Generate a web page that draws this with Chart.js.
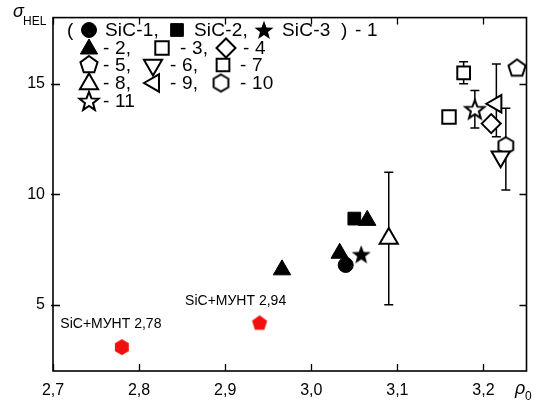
<!DOCTYPE html>
<html><head><meta charset="utf-8">
<script src="https://cdn.jsdelivr.net/npm/chart.js@4"></script>
<style>html,body{margin:0;padding:0;background:#fff}#wrap{width:539px;height:403px}</style>
</head><body><div id="wrap"><canvas id="c" width="539" height="403"></canvas></div>
<script>
// ---- data ----
const xTicks = [2.7, 2.8, 2.9, 3.0, 3.1, 3.2];
const yTicks = [5, 10, 15];
const sic1X = [3.04],  sic1Y = [6.8];
const sic2X = [3.05],  sic2Y = [8.9];
const sic3X = [3.058], sic3Y = [7.28];
const s2X = [2.966, 3.033, 3.065], s2Y = [6.58, 7.33, 8.82];
const s3X = [3.16],  s3Y = [13.5];
const s4X = [3.209], s4Y = [13.2];
const s5X = [3.239], s5Y = [15.7];
const s6X = [3.22],  s6Y = [11.7];
const s7X = [3.177], s7Y = [15.5],  s7Lo = [15.0],  s7Hi = [16.0];
const s8X = [3.09],  s8Y = [8.0],   s8Lo = [5.0],   s8Hi = [11.0];
const s9X = [3.215], s9Y = [14.1],  s9Lo = [12.6],  s9Hi = [15.9];
const s10X = [3.226], s10Y = [12.2], s10Lo = [10.2], s10Hi = [13.9];
const s11X = [3.19],  s11Y = [13.85], s11Lo = [13.0], s11Hi = [14.7];
const mwntX = [2.78, 2.94], mwntY = [3.08, 4.16];
const mwntLabels = ['SiC+МУНТ 2,78', 'SiC+МУНТ 2,94'];

const FONT = 'Arial, "Liberation Sans", sans-serif';

// ---- custom marker shapes ----
function polyPath(ctx, cx, cy, n, R, startDeg) {
  ctx.beginPath();
  for (let k = 0; k < n; k++) {
    const a = (startDeg + k * 360 / n) * Math.PI / 180;
    const px = cx + R * Math.cos(a), py = cy + R * Math.sin(a);
    k ? ctx.lineTo(px, py) : ctx.moveTo(px, py);
  }
  ctx.closePath();
}
function starPath(ctx, cx, cy, R, r) {
  ctx.beginPath();
  for (let k = 0; k < 10; k++) {
    const a = (-90 + k * 36) * Math.PI / 180;
    const rr = k % 2 ? r : R;
    const px = cx + rr * Math.cos(a), py = cy + rr * Math.sin(a);
    k ? ctx.lineTo(px, py) : ctx.moveTo(px, py);
  }
  ctx.closePath();
}
function shapeCanvas(kind, R, fill, stroke, lw) {
  const s = Math.ceil(2 * R + lw + 4);
  const c = document.createElement('canvas');
  c.width = c.height = s;
  const g = c.getContext('2d');
  const m = s / 2;
  if (kind === 'pentagon') polyPath(g, m, m, 5, R, -90);
  else if (kind === 'hexagon') polyPath(g, m, m, 6, R, -90);
  else if (kind === 'star') starPath(g, m, m + R * 0.08, R, R * 0.42);
  g.lineJoin = 'miter';
  g.fillStyle = fill; g.fill();
  if (lw > 0) { g.lineWidth = lw; g.strokeStyle = stroke; g.stroke(); }
  return c;
}
const imgStarFilled = shapeCanvas('star', 10, '#000', '#000', 0);
const imgStarOpen   = shapeCanvas('star', 10, '#fff', '#000', 2);
const imgPentOpen   = shapeCanvas('pentagon', 9, '#fff', '#000', 2);
const imgHexOpen    = shapeCanvas('hexagon', 8.5, '#fff', '#000', 2);
const imgHexRed     = shapeCanvas('hexagon', 8, '#f01010', '#f01010', 0);
const imgPentRed    = shapeCanvas('pentagon', 8, '#f01010', '#f01010', 0);

// marker specifications
const M = {
  sic1: { pointStyle: 'circle', radius: 7.5, rotation: 0, bg: '#000', bc: '#000', bw: 1 },
  sic2: { pointStyle: 'rect', radius: 9, rotation: 0, bg: '#000', bc: '#000', bw: 1 },
  sic3: { pointStyle: imgStarFilled, radius: 10, rotation: 0, bg: '#000', bc: '#000', bw: 0 },
  s2:   { pointStyle: 'triangle', radius: 10, rotation: 0, bg: '#000', bc: '#000', bw: 1 },
  s3:   { pointStyle: 'rect', radius: 9.5, rotation: 0, bg: '#fff', bc: '#000', bw: 2 },
  s4:   { pointStyle: 'rectRot', radius: 9.5, rotation: 0, bg: '#fff', bc: '#000', bw: 2 },
  s5:   { pointStyle: imgPentOpen, radius: 9, rotation: 0, bg: '#fff', bc: '#000', bw: 0 },
  s6:   { pointStyle: 'triangle', radius: 10.5, rotation: 180, bg: '#fff', bc: '#000', bw: 2 },
  s7:   { pointStyle: 'rect', radius: 9, rotation: 0, bg: '#fff', bc: '#000', bw: 2 },
  s8:   { pointStyle: 'triangle', radius: 10.5, rotation: 0, bg: '#fff', bc: '#000', bw: 2 },
  s9:   { pointStyle: 'triangle', radius: 10, rotation: 270, bg: '#fff', bc: '#000', bw: 2 },
  s10:  { pointStyle: imgHexOpen, radius: 8.5, rotation: 0, bg: '#fff', bc: '#000', bw: 0 },
  s11:  { pointStyle: imgStarOpen, radius: 10, rotation: 0, bg: '#fff', bc: '#000', bw: 0 }
};

function pts(xs, ys) { return xs.map((x, i) => ({ x: x, y: ys[i] })); }
function ds(label, xs, ys, m) {
  return {
    label: label, data: pts(xs, ys), showLine: false,
    pointStyle: m.pointStyle, pointRadius: m.radius, pointHoverRadius: m.radius,
    pointRotation: m.rotation, backgroundColor: m.bg, borderColor: m.bc, borderWidth: m.bw
  };
}

const datasets = [
  ds('SiC-1', sic1X, sic1Y, M.sic1),
  ds('SiC-2', sic2X, sic2Y, M.sic2),
  ds('SiC-3', sic3X, sic3Y, M.sic3),
  ds('2', s2X, s2Y, M.s2),
  ds('3', s3X, s3Y, M.s3),
  ds('4', s4X, s4Y, M.s4),
  ds('5', s5X, s5Y, M.s5),
  ds('6', s6X, s6Y, M.s6),
  ds('7', s7X, s7Y, M.s7),
  ds('8', s8X, s8Y, M.s8),
  ds('9', s9X, s9Y, M.s9),
  ds('10', s10X, s10Y, M.s10),
  ds('11', s11X, s11Y, M.s11),
  {
    label: 'SiC+МУНТ', data: pts(mwntX, mwntY), showLine: false,
    pointStyle: [imgHexRed, imgPentRed], pointRadius: 8, borderWidth: 0,
    backgroundColor: '#f01010', borderColor: '#f01010'
  }
];

const errorBars = [
  { xs: s7X, lo: s7Lo, hi: s7Hi },
  { xs: s8X, lo: s8Lo, hi: s8Hi },
  { xs: s9X, lo: s9Lo, hi: s9Hi },
  { xs: s10X, lo: s10Lo, hi: s10Hi },
  { xs: s11X, lo: s11Lo, hi: s11Hi }
];

// draw a marker in legend
function drawMarker(ctx, m, x, y) {
  ctx.save();
  ctx.translate(x, y);
  ctx.rotate(m.rotation * Math.PI / 180);
  const st = m.pointStyle, r = m.radius;
  if (typeof st !== 'string') {
    ctx.drawImage(st, -st.width / 2, -st.height / 2);
    ctx.restore(); return;
  }
  ctx.beginPath();
  if (st === 'circle') ctx.arc(0, 0, r, 0, Math.PI * 2);
  else if (st === 'rect') { const s = r * Math.SQRT1_2; ctx.rect(-s, -s, 2 * s, 2 * s); }
  else if (st === 'rectRot') { ctx.moveTo(-r, 0); ctx.lineTo(0, -r); ctx.lineTo(r, 0); ctx.lineTo(0, r); }
  else if (st === 'triangle') {
    for (let k = 0; k < 3; k++) {
      const a = k * 2 * Math.PI / 3;
      const px = Math.sin(a) * r, py = -Math.cos(a) * r;
      k ? ctx.lineTo(px, py) : ctx.moveTo(px, py);
    }
  }
  ctx.closePath();
  ctx.fillStyle = m.bg; ctx.fill();
  if (m.bw > 0) { ctx.lineWidth = m.bw; ctx.strokeStyle = m.bc; ctx.stroke(); }
  ctx.restore();
}

const decor = {
  id: 'decor',
  beforeDatasetsDraw(chart) {
    const { ctx, scales: { x, y } } = chart;
    ctx.save();
    ctx.strokeStyle = '#000'; ctx.lineWidth = 1.5;
    errorBars.forEach(e => {
      e.xs.forEach((xv, i) => {
        const px = x.getPixelForValue(xv);
        const p1 = y.getPixelForValue(e.lo[i]), p2 = y.getPixelForValue(e.hi[i]);
        ctx.beginPath();
        ctx.moveTo(px, p1); ctx.lineTo(px, p2);
        ctx.moveTo(px - 4.5, p1); ctx.lineTo(px + 4.5, p1);
        ctx.moveTo(px - 4.5, p2); ctx.lineTo(px + 4.5, p2);
        ctx.stroke();
      });
    });
    ctx.restore();
  },
  afterDraw(chart) {
    const { ctx, chartArea: a, scales: { x, y } } = chart;
    ctx.save();
    // frame
    ctx.strokeStyle = '#000'; ctx.lineWidth = 1.6;
    ctx.strokeRect(a.left, a.top, a.right - a.left, a.bottom - a.top);
    // inward ticks
    ctx.lineWidth = 1.3;
    ctx.beginPath();
    xTicks.forEach(v => {
      const px = Math.round(x.getPixelForValue(v)) + 0.5;
      ctx.moveTo(px, a.bottom); ctx.lineTo(px, a.bottom - 7);
      ctx.moveTo(px, a.top); ctx.lineTo(px, a.top + 7);
    });
    yTicks.forEach(v => {
      const py = Math.round(y.getPixelForValue(v)) + 0.5;
      ctx.moveTo(a.left - 2, py); ctx.lineTo(a.left + 7, py);
      ctx.moveTo(a.right, py); ctx.lineTo(a.right - 7, py);
    });
    ctx.stroke();

    // axis titles
    ctx.fillStyle = '#000';
    ctx.textBaseline = 'alphabetic'; ctx.textAlign = 'left';
    ctx.font = 'italic 18px ' + FONT;
    ctx.fillText('σ', 13, 17);
    ctx.font = '12px ' + FONT;
    ctx.fillText('HEL', 23, 25);
    ctx.font = 'italic 18px ' + FONT;
    ctx.fillText('ρ', 515, 394);
    ctx.font = '12px ' + FONT;
    ctx.fillText('0', 525, 400);

    // point annotations
    ctx.font = '14px ' + FONT;
    ctx.textAlign = 'center'; ctx.textBaseline = 'middle';
    const lblOff = [[-11, -23], [-24, -22]];
    mwntX.forEach((xv, i) => {
      const px = x.getPixelForValue(xv), py = y.getPixelForValue(mwntY[i]);
      ctx.fillText(mwntLabels[i], px + lblOff[i][0], py + lblOff[i][1]);
    });

    // legend
    const L = a.left;
    ctx.font = '19px ' + FONT;
    try { ctx.letterSpacing = '0.2px'; } catch (e) {}
    ctx.textAlign = 'left'; ctx.textBaseline = 'middle';
    const rows = [30, 48, 65, 83, 101];
    const T = (s, dx, row) => ctx.fillText(s, L + dx, rows[row] + 1);
    // row 1
    T('(', 14, 0);
    drawMarker(ctx, M.sic1, L + 36, rows[0]);
    T('SiC-1,', 52, 0);
    drawMarker(ctx, M.sic2, L + 124, rows[0]);
    T('SiC-2,', 141, 0);
    drawMarker(ctx, M.sic3, L + 211, rows[0]);
    T('SiC-3', 229, 0);
    T(')', 288, 0);
    T('- 1', 302, 0);
    // row 2
    drawMarker(ctx, M.s2, L + 36, rows[1] + 1);
    T('- 2,', 50, 1);
    drawMarker(ctx, M.s3, L + 109, rows[1]);
    T('- 3,', 127, 1);
    drawMarker(ctx, M.s4, L + 173, rows[1]);
    T('- 4', 190, 1);
    // row 3
    drawMarker(ctx, M.s5, L + 36, rows[2]);
    T('- 5,', 50, 2);
    drawMarker(ctx, M.s6, L + 100, rows[2]);
    T('- 6,', 117, 2);
    drawMarker(ctx, M.s7, L + 170, rows[2]);
    T('- 7', 187, 2);
    // row 4
    drawMarker(ctx, M.s8, L + 36, rows[3] + 1);
    T('- 8,', 50, 3);
    drawMarker(ctx, M.s9, L + 101, rows[3]);
    T('- 9,', 117, 3);
    drawMarker(ctx, M.s10, L + 168, rows[3]);
    T('- 10', 187, 3);
    // row 5
    drawMarker(ctx, M.s11, L + 36, rows[4]);
    T('- 11', 50, 4);
    ctx.restore();
  }
};

new Chart(document.getElementById('c'), {
  type: 'scatter',
  data: { datasets: datasets },
  options: {
    responsive: false, animation: false, devicePixelRatio: 1,
    layout: { padding: { top: 13, right: 7, left: 0, bottom: 0 } },
    plugins: { legend: { display: false }, tooltip: { enabled: false } },
    scales: {
      x: {
        type: 'linear', min: 2.7, max: 3.25,
        grid: { display: false, drawTicks: false }, border: { display: false },
        afterBuildTicks: s => { s.ticks = xTicks.map(v => ({ value: v })); },
        afterFit: s => { s.height = 32; },
        ticks: { padding: 10, color: '#000', font: { family: FONT, size: 16 },
                 maxRotation: 0, autoSkip: false, callback: v => Number(v).toFixed(1).replace('.', ',') }
      },
      y: {
        type: 'linear', min: 2, max: 18,
        grid: { display: false, drawTicks: false }, border: { display: false },
        afterBuildTicks: s => { s.ticks = yTicks.map(v => ({ value: v })); },
        afterFit: s => { s.width = 53; },
        ticks: { padding: 8, color: '#000', font: { family: FONT, size: 16 },
                 autoSkip: false, callback: v => String(v) }
      }
    }
  },
  plugins: [decor]
});
</script></body></html>
